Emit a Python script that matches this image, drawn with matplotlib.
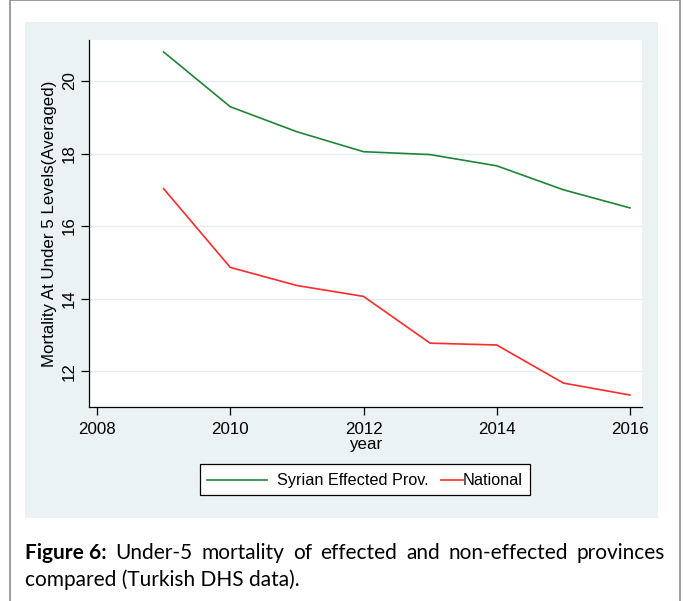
import matplotlib.pyplot as plt
from matplotlib.patches import Rectangle
from matplotlib.lines import Line2D

years = [2009, 2010, 2011, 2012, 2013, 2014, 2015, 2016]
syrian = [20.80, 19.29, 18.60, 18.05, 17.97, 17.66, 17.00, 16.50]
national = [17.03, 14.86, 14.36, 14.06, 12.77, 12.72, 11.67, 11.34]
series_names = ['Syrian Effected Prov.', 'National']

W, H = 684, 601
plt.rcParams['font.family'] = ['Liberation Sans', 'DejaVu Sans']
green = '#1e8536'
red = '#ff2a2a'

fig = plt.figure(figsize=(W / 100, H / 100), dpi=100)
fig.patch.set_facecolor('white')


def fx(px):
    return px / W


def fy(py):
    return 1 - py / H


# outer border and stata-like graph region
fig.add_artist(Rectangle((fx(10), fy(620)), fx(670), 620 / H, transform=fig.transFigure,
                         facecolor='none', edgecolor='#8c8c8c', lw=1.2, zorder=-2))
fig.add_artist(Rectangle((fx(25), fy(518)), fx(633), 496 / H, transform=fig.transFigure,
                         facecolor='#eaf2f3', edgecolor='none', zorder=-1))

ax = fig.add_axes([fx(89), fy(407), fx(642 - 89), (407 - 40) / H])
ax.set_facecolor('white')
ax.plot(years, syrian, color=green, lw=1.2, label=series_names[0])
ax.plot(years, national, color=red, lw=1.2, label=series_names[1])

ax.set_xlim(2007.88, 2016.18)
ax.set_ylim(11.01, 21.13)
ax.set_xticks([2008, 2010, 2012, 2014, 2016])
ax.set_yticks([12, 14, 16, 18, 20])
ax.grid(axis='y', color='#e3eef0', lw=1.0)
ax.set_axisbelow(True)
for s in ['top', 'right']:
    ax.spines[s].set_visible(False)
for s in ['left', 'bottom']:
    ax.spines[s].set_color('black')
    ax.spines[s].set_linewidth(0.9)
ax.tick_params(axis='both', direction='out', length=5.5, width=0.9, labelsize=12.2, colors='black')
ax.tick_params(axis='x', pad=5)
ax.tick_params(axis='y', pad=3)
for lbl in ax.get_yticklabels():
    lbl.set_rotation(90)
    lbl.set_va('center')
ax.set_xlabel('year', fontsize=12.2, labelpad=0)
ax.set_ylabel('Mortality At Under 5 Levels(Averaged)', fontsize=12.2, labelpad=4)

# legend box drawn like stata's (short key for the second entry)
fig.add_artist(Rectangle((fx(200), fy(495)), fx(330), 31 / H, transform=fig.transFigure,
                         facecolor='white', edgecolor='black', lw=0.9))
ly = fy(480)
base = fy(485)
fig.add_artist(Line2D([fx(207), fx(267)], [ly, ly], transform=fig.transFigure, color=green, lw=1.2))
fig.text(fx(277), base, series_names[0], fontsize=11.7, va='baseline', ha='left')
fig.add_artist(Line2D([fx(441), fx(463)], [ly, ly], transform=fig.transFigure, color=red, lw=1.2))
fig.text(fx(463), base, series_names[1], fontsize=11.7, va='baseline', ha='left')

# caption, first line justified between x=25 and x=665
cap_font = ['Lato', 'Open Sans', 'DejaVu Sans']
cap_size = 15
words = ['Under-5', 'mortality', 'of', 'effected', 'and', 'non-effected', 'provinces']
renderer = fig.canvas.get_renderer()
head = fig.text(fx(25), fy(553), 'Figure 6:', fontsize=cap_size, fontweight='bold',
                family=cap_font, va='center', ha='left')
items = [head] + [fig.text(0, fy(553), w, fontsize=cap_size, family=cap_font,
                           va='center', ha='left') for w in words]
widths = [t.get_window_extent(renderer).width for t in items]
gap = (665 - 25 - sum(widths)) / (len(items) - 1)
x = 25
for t, w in zip(items, widths):
    t.set_x(fx(x))
    x += w + gap
fig.text(fx(25), fy(580), 'compared (Turkish DHS data).', fontsize=cap_size, family=cap_font,
         va='center', ha='left')

fig.savefig('out.png', dpi=100)
